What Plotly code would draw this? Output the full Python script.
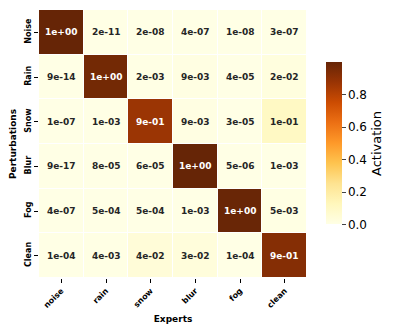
import plotly.graph_objects as go

# experts (columns) and perturbations (rows, top to bottom)
experts = ["noise", "rain", "snow", "blur", "fog", "clean"]
perturbations = ["Noise", "Rain", "Snow", "Blur", "Fog", "Clean"]

noise_row = [0.9999, 2e-11, 2e-08, 4e-07, 1e-08, 3e-07]
rain_row = [9e-14, 0.968, 2e-03, 9e-03, 4e-05, 2e-02]
snow_row = [1e-07, 1e-03, 0.87, 9e-03, 3e-05, 1e-01]
blur_row = [9e-17, 8e-05, 6e-05, 0.9988, 5e-06, 1e-03]
fog_row = [4e-07, 5e-04, 5e-04, 1e-03, 0.993, 5e-03]
clean_row = [1e-04, 4e-03, 4e-02, 3e-02, 1e-04, 0.925]

z = [noise_row, rain_row, snow_row, blur_row, fog_row, clean_row]

font = "DejaVu Sans"

fig = go.Figure(go.Heatmap(
    z=z, x=experts, y=perturbations,
    colorscale="YlOrBr", zmin=0, zmax=max(max(r) for r in z),
    xgap=1, ygap=1,
    colorbar=dict(
        title=dict(text="Activation", side="right", font=dict(size=13, family=font)),
        thickness=16, len=0.604, lenmode="fraction",
        x=1.071, xanchor="left", xpad=0, y=0.502, yanchor="middle", ypad=0,
        tickvals=[0, 0.2, 0.4, 0.6, 0.8], ticktext=["0.0", "0.2", "0.4", "0.6", "0.8"],
        ticks="outside", ticklen=4, tickfont=dict(size=12, family=font),
        outlinewidth=0,
    ),
))

# cell labels
for i, row in enumerate(z):
    for j, v in enumerate(row):
        fig.add_annotation(
            x=experts[j], y=perturbations[i], text="<b>%s</b>" % "{:.0e}".format(v),
            showarrow=False,
            font=dict(size=9, family=font, color="white" if v > 0.5 else "#262626"),
        )

fig.update_xaxes(
    title=dict(text="<b>Experts</b>", font=dict(size=9, family=font), standoff=6),
    tickangle=-45, ticks="outside", ticklen=4, tickcolor="black",
    tickfont=dict(size=8, family=font), showgrid=False, zeroline=False,
    tickprefix="<b>", ticksuffix="</b>", automargin=False,
)
fig.update_yaxes(
    title=dict(text="<b>Perturbations</b>", font=dict(size=9, family=font), standoff=6),
    autorange="reversed", tickangle=-90, ticks="outside", ticklen=4, tickcolor="black",
    tickfont=dict(size=8, family=font), showgrid=False, zeroline=False,
    tickprefix="<b>", ticksuffix="</b>", automargin=False,
)

# page body has an 8px margin, so the figure is drawn 8px smaller and offset
fig.update_layout(
    width=389, height=323,
    margin=dict(l=31, r=90, t=2, b=53, autoexpand=False),
    paper_bgcolor="white", plot_bgcolor="white",
    font=dict(family=font, color="black"),
)

fig.write_html("out.html")
